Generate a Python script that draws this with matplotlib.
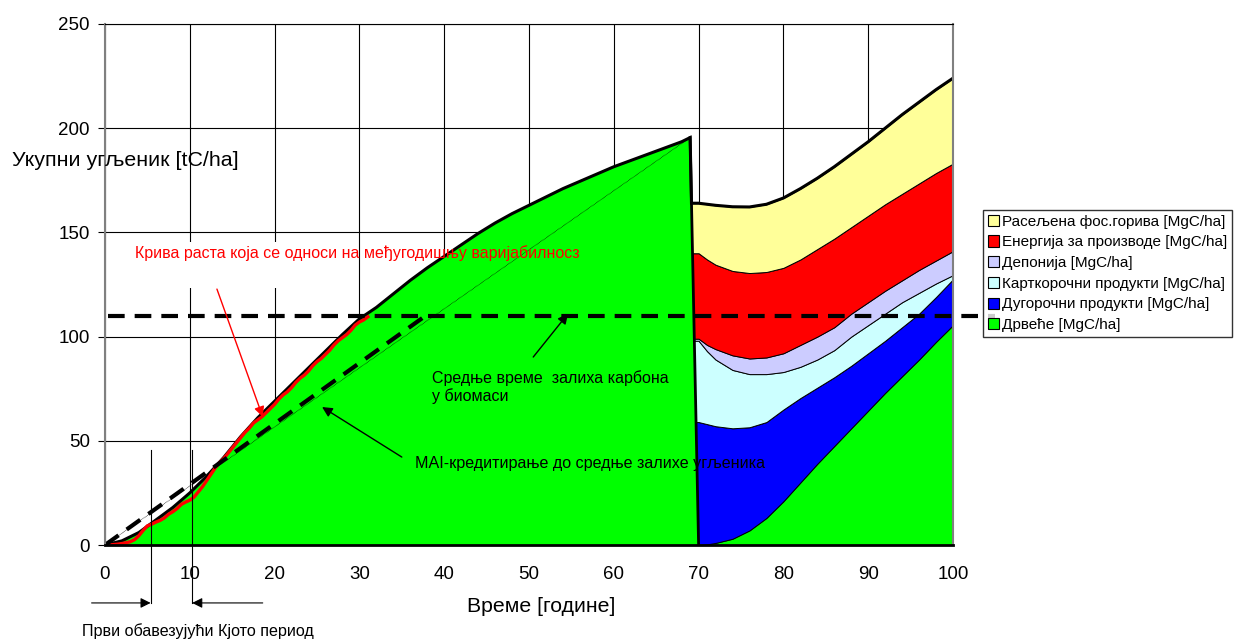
import matplotlib.pyplot as plt
import numpy as np
from matplotlib.patches import Patch, Rectangle

plt.rcParams['font.family'] = ['Liberation Sans', 'DejaVu Sans']

# раст шуме до сече (укупни угљеник, tC/ha)
pre_years = [0, 2, 4, 6, 8, 10, 12, 14, 16, 18, 20, 22, 24, 26, 28, 30, 32, 34, 36, 38,
             40, 42, 44, 46, 48, 50, 52, 54, 56, 58, 60, 62, 64, 66, 68, 69]
pre_total = [0, 2, 6, 12, 18, 25, 33, 42, 52, 61, 69, 77, 85, 93, 101, 108.5, 114, 120.5, 127, 133,
             138.5, 144, 149.5, 154.5, 159, 163, 167, 171, 174.5, 178, 181.5, 184.5, 187.5, 190.5, 193.5, 195.5]
harvest_year = 69

# после сече
post_years = [70, 71, 72, 74, 76, 78, 80, 82, 84, 86, 88, 90, 92, 94, 96, 98, 100]
trees = [0, 0.3, 1, 3, 7, 13, 21, 30, 39, 47.5, 56, 64.5, 73, 81, 89, 97.5, 105.5]
long_products = [59, 57.7, 56, 53, 49.5, 46, 44, 40.5, 36.5, 33, 30, 27.5, 25, 23.5, 22, 21.5, 22]
short_products = [39, 35, 32, 28, 25.5, 23, 18, 15, 13.5, 13, 14, 13.5, 13, 12, 10, 6.5, 2]
landfill = [1, 3, 5, 7, 7.5, 8, 9, 10.5, 11, 11, 11, 11, 11, 10.5, 11, 11, 11.5]
energy = [41, 41, 40.5, 40.5, 41, 41, 41, 41, 42, 42.5, 41.5, 41.5, 41.5, 41.5, 41.5, 42, 42]
fossil = [24, 26.5, 28.5, 30.8, 31.7, 32.5, 33.5, 34, 34, 34.5, 35, 35.5, 36.5, 38, 39, 40, 41]

# крива са међугодишњом варијабилношћу
red_x = np.arange(0.5, 31.01, 0.5)
red_y = [0, 0.2, 0.4, 0.7, 1.1, 1.6, 2.6, 4.5, 7, 9.2, 10, 11, 11.8, 13, 14.8, 16, 17.5, 19.5,
         20.6, 21.5, 23, 25.5, 28, 31, 34, 37, 39.5, 41.5, 44, 46.5, 49, 51.5, 54, 56,
         58.5, 60, 61.5, 63.5, 65.5, 67.5, 70, 72, 73.5, 75.5, 78, 80, 81.5, 83.5, 86, 88, 89.5,
         91.5, 93.5, 96, 98, 99.5, 101, 103, 105.5, 107, 108, 109.5]

mean_stock = 110
mai_reach = 37.8

labels = ["Расељена фос.горива [MgC/ha]", "Енергија за производе [MgC/ha]", "Депонија [MgC/ha]",
          "Карткорочни продукти [MgC/ha]", "Дугорочни продукти [MgC/ha]", "Дрвеће [MgC/ha]"]
colors = ["#ffff99", "#ff0000", "#ccccff", "#ccffff", "#0000ff", "#00ff00"]

fig, ax = plt.subplots(figsize=(12.39, 6.39), dpi=100)
fig.subplots_adjust(left=105/1239, right=953/1239, bottom=1-545/639, top=1-24/639)

layers = [trees, long_products, short_products, landfill, energy, fossil]
stack_x = [harvest_year] + post_years
ax.stackplot(stack_x, *[[l[0]] + l for l in layers], colors=colors[::-1],
             edgecolor='black', linewidth=0.7, zorder=2)

peak = pre_total[-1]
post_total = np.sum(layers, axis=0)
ax.fill_between(pre_years + [post_years[0]], pre_total + [0], color='#00ff00', lw=0, zorder=3)
ax.plot([harvest_year, post_years[0]], [peak, 0], color='black', lw=2, zorder=4)
x_cut = harvest_year + (peak - post_total[0]) / peak * (post_years[0] - harvest_year)
ax.plot(pre_years + [x_cut] + post_years, pre_total + [post_total[0]] + list(post_total),
        color='black', lw=2.2, zorder=5, solid_joinstyle='miter')
ax.plot([0, harvest_year], [0, peak], color='black', lw=0.5, ls=(0, (1, 1)), zorder=4)

ax.plot(red_x, red_y, color='red', lw=2.4, zorder=5)

ax.plot([0, mai_reach], [0, mean_stock], color='black', lw=3, dashes=(4, 2.4), zorder=6)
ax.plot([0.4, 105], [mean_stock, mean_stock], color='black', lw=3, dashes=(4, 2.4), zorder=6,
        clip_on=False)

ax.add_patch(Rectangle((5.3, 123.3), 21.2, 22.1, facecolor='white', edgecolor='none', zorder=1))

ax.set_xlim(0, 100)
ax.set_ylim(0, 250)
ax.set_xticks(range(0, 101, 10))
ax.set_yticks(range(0, 251, 50))
ax.set_axisbelow(True)
ax.grid(color='black', lw=0.8)
ax.tick_params(axis='x', length=0, pad=15, labelsize=13.5)
ax.tick_params(axis='y', length=5, width=0.8, pad=6, labelsize=13.5)
for s in ['left', 'right']:
    ax.spines[s].set_color('#808080')
    ax.spines[s].set_linewidth(1.5)
ax.spines['top'].set_linewidth(0.8)
ax.spines['bottom'].set_linewidth(2)
for s in ax.spines.values():
    s.set_zorder(10)

# напомене
ax.text(3.54, 140.1, "Крива раста која се односи на међугодишњу варијабилносз", color='red',
        fontsize=11.5, va='center', zorder=7)
ax.annotate('', xy=(18.6, 61.5), xytext=(13.2, 122.8),
            arrowprops=dict(arrowstyle='-|>', color='red', lw=1, mutation_scale=15,
                            shrinkA=0, shrinkB=0), zorder=7)
ax.text(38.6, 84, "Средње време  залиха карбона\nу биомаси", fontsize=11.5, va='top',
        linespacing=1.2, zorder=7)
ax.annotate('', xy=(54.6, 111), xytext=(50.5, 90.2),
            arrowprops=dict(arrowstyle='-|>', color='black', lw=1, mutation_scale=15,
                            shrinkA=0, shrinkB=0), zorder=7)
ax.text(36.6, 39.3, "MAI-кредитирање до средње залихе угљеника", fontsize=11.6, va='center', zorder=7)
ax.annotate('', xy=(25.6, 66.2), xytext=(35, 42.2),
            arrowprops=dict(arrowstyle='-|>', color='black', lw=1, mutation_scale=15,
                            shrinkA=0, shrinkB=0), zorder=7)

# први Кјото период
for kx in [5.38, 10.28]:
    ax.plot([kx, kx], [45.6, -27.8], color='black', lw=0.8, zorder=7, clip_on=False)
ax.annotate('', xy=(5.38, -27.8), xytext=(-1.58, -27.8), annotation_clip=False,
            arrowprops=dict(arrowstyle='-|>', color='black', lw=0.8, mutation_scale=15,
                            shrinkA=0, shrinkB=0))
ax.annotate('', xy=(10.28, -27.8), xytext=(18.6, -27.8), annotation_clip=False,
            arrowprops=dict(arrowstyle='-|>', color='black', lw=0.8, mutation_scale=15,
                            shrinkA=0, shrinkB=0))
fig.text(198/1239, 1-631/639, "Први обавезујући Кјото период", fontsize=11.6, ha='center', va='center')

fig.text(12/1239, 1-160/639, "Укупни угљеник [tC/ha]", fontsize=15.4, va='center')
fig.text(541/1239, 1-607/639, "Време [године]", fontsize=15.3, ha='center', va='center')

handles = [Patch(facecolor=c, edgecolor='black', lw=0.8) for c in colors]
leg = fig.legend(handles, labels, loc='upper left', bbox_to_anchor=(983/1239, 1-210/639),
                 fontsize=11, frameon=True, fancybox=False, edgecolor='black',
                 handlelength=0.75, handleheight=0.75, handletextpad=0.2,
                 labelspacing=0.44, borderpad=0.3, borderaxespad=0)
leg.get_frame().set_linewidth(1)

fig.savefig('out.png', dpi=100)
